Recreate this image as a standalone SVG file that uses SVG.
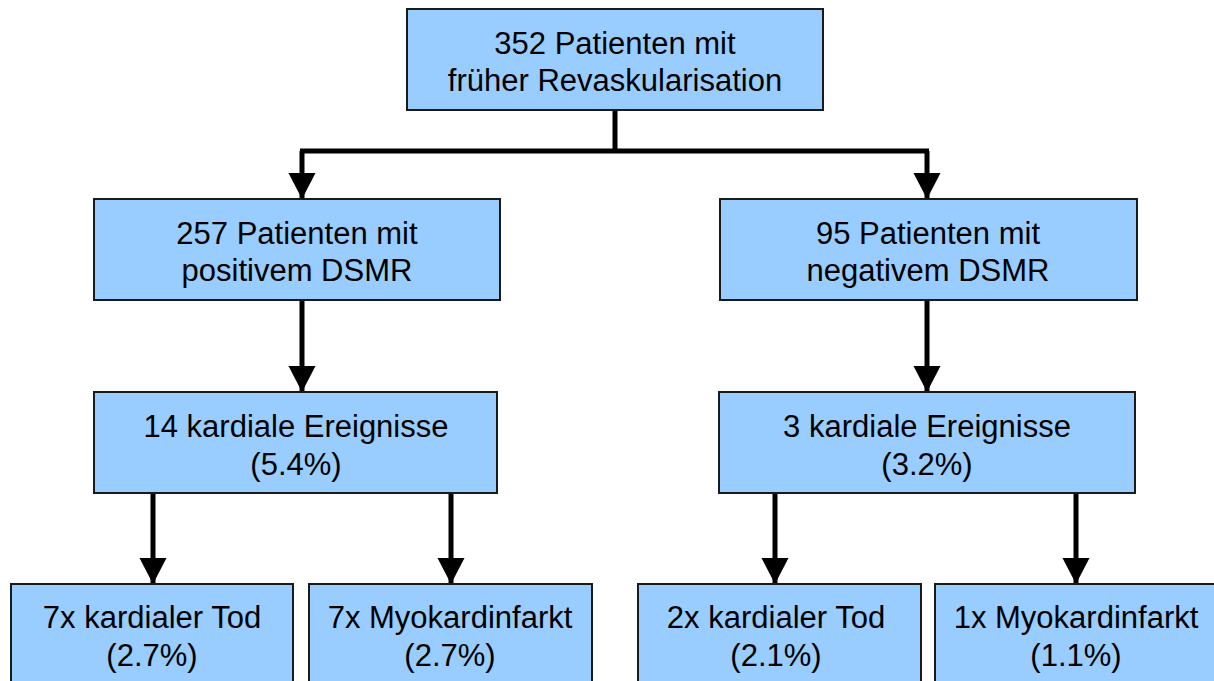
<svg xmlns="http://www.w3.org/2000/svg" width="1214" height="681" viewBox="0 0 1214 681">
  <style>
    .box { fill: #99ccff; stroke: #1a1a1a; stroke-width: 2; }
    .lbl { font-family: "Liberation Sans", Arial, sans-serif; font-size: 31px; fill: #000; text-anchor: middle; }
    .wire { fill: none; stroke: #000; stroke-width: 5; }
    .arrow { fill: none; stroke: #000; stroke-width: 5; marker-end: url(#head); }
  </style>
  <defs>
    <marker id="head" markerUnits="userSpaceOnUse" markerWidth="28" markerHeight="28" refX="26" refY="13.5" orient="auto">
      <path d="M0,0 L26,13.5 L0,27 Z" fill="#000"/>
    </marker>
  </defs>
  <rect width="1214" height="681" fill="#fff"/>

  <!-- connectors -->
  <g id="connectors">
    <path class="wire" d="M615,110 V151 M300,151 H929"/>
    <path class="arrow" d="M302,151 V199"/>
    <path class="arrow" d="M927,151 V199"/>
    <path class="arrow" d="M302,300 V392"/>
    <path class="arrow" d="M927,300 V392"/>
    <path class="arrow" d="M153,493 V584"/>
    <path class="arrow" d="M451,493 V584"/>
    <path class="arrow" d="M775,493 V584"/>
    <path class="arrow" d="M1076,493 V584"/>
  </g>

  <g id="root">
    <rect class="box" x="407" y="9" width="416" height="101"/>
    <text class="lbl" x="615" y="54">352 Patienten mit</text>
    <text class="lbl" x="615" y="91">früher Revaskularisation</text>
  </g>

  <g id="positive">
    <rect class="box" x="94" y="199" width="406" height="101"/>
    <text class="lbl" x="297" y="244">257 Patienten mit</text>
    <text class="lbl" x="297" y="281">positivem DSMR</text>
  </g>

  <g id="negative">
    <rect class="box" x="720" y="199" width="417" height="101"/>
    <text class="lbl" x="928" y="244">95 Patienten mit</text>
    <text class="lbl" x="928" y="281">negativem DSMR</text>
  </g>

  <g id="events-positive">
    <rect class="box" x="94" y="392" width="403" height="101"/>
    <text class="lbl" x="296" y="437">14 kardiale Ereignisse</text>
    <text class="lbl" x="296" y="475">(5.4%)</text>
  </g>

  <g id="events-negative">
    <rect class="box" x="719" y="392" width="416" height="101"/>
    <text class="lbl" x="927" y="437">3 kardiale Ereignisse</text>
    <text class="lbl" x="927" y="475">(3.2%)</text>
  </g>

  <g id="death-positive">
    <rect class="box" x="11" y="584" width="282" height="120"/>
    <text class="lbl" x="152" y="628">7x kardialer Tod</text>
    <text class="lbl" x="152" y="666">(2.7%)</text>
  </g>

  <g id="mi-positive">
    <rect class="box" x="309" y="584" width="283" height="120"/>
    <text class="lbl" x="450" y="628">7x Myokardinfarkt</text>
    <text class="lbl" x="450" y="666">(2.7%)</text>
  </g>

  <g id="death-negative">
    <rect class="box" x="638" y="584" width="283" height="120"/>
    <text class="lbl" x="776" y="628">2x kardialer Tod</text>
    <text class="lbl" x="776" y="666">(2.1%)</text>
  </g>

  <g id="mi-negative">
    <rect class="box" x="935" y="584" width="290" height="120"/>
    <text class="lbl" x="1076" y="628">1x Myokardinfarkt</text>
    <text class="lbl" x="1076" y="666">(1.1%)</text>
  </g>
</svg>
